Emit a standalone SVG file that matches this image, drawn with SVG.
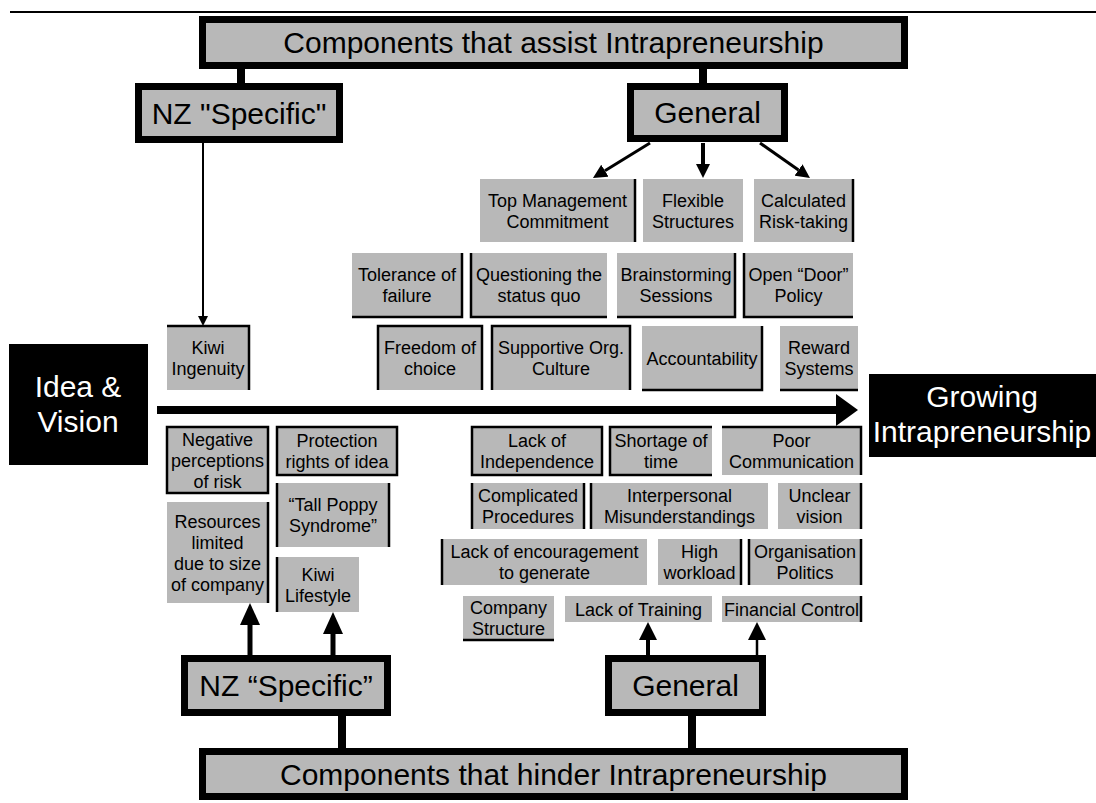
<svg xmlns="http://www.w3.org/2000/svg" width="1096" height="803" viewBox="0 0 1096 803">
<style>
.bg{fill:#ffffff}
.box{fill:#b8b8b8}
.edge{fill:none;stroke:#000;stroke-width:2.5}
.tbox{fill:#b8b8b8;stroke:#000;stroke-width:7}
.dark{fill:#000}
.t{font-family:"Liberation Sans",Arial,sans-serif;font-size:18px;fill:#000;text-anchor:middle}
.tl{font-family:"Liberation Sans",Arial,sans-serif;font-size:30px;fill:#000;text-anchor:middle}
.tw{font-family:"Liberation Sans",Arial,sans-serif;font-size:30px;fill:#fff;text-anchor:middle}
.ln{fill:none;stroke:#000}
</style>
<defs>
<marker id="ahSmall" markerUnits="userSpaceOnUse" markerWidth="10" markerHeight="10" refX="0" refY="5" orient="auto"><path d="M0,0L10,5L0,10Z" fill="#000"/></marker>
<marker id="ahMid" markerUnits="userSpaceOnUse" markerWidth="14" markerHeight="14" refX="0" refY="7" orient="auto"><path d="M0,0L14,7L0,14Z" fill="#000"/></marker>
<marker id="ahUp" markerUnits="userSpaceOnUse" markerWidth="22" markerHeight="20" refX="0" refY="10" orient="auto"><path d="M0,0L22,10L0,20Z" fill="#000"/></marker>
<marker id="ahUp2" markerUnits="userSpaceOnUse" markerWidth="18" markerHeight="18" refX="0" refY="9" orient="auto"><path d="M0,0L18,9L0,18Z" fill="#000"/></marker>
<marker id="ahBig" markerUnits="userSpaceOnUse" markerWidth="22" markerHeight="32" refX="0" refY="16" orient="auto"><path d="M0,0L22,16L0,32Z" fill="#000"/></marker>
</defs>
<rect class="bg" x="0" y="0" width="1096" height="803"/>

<g id="connectors">
<path class="ln" stroke-width="2" d="M10,12H1096"/>
<path class="ln" stroke-width="8" d="M241,69V83"/>
<path class="ln" stroke-width="8" d="M703,69V83"/>
<path class="ln" stroke-width="2" d="M203,143V316" marker-end="url(#ahSmall)"/>
<path class="ln" stroke-width="3" d="M650,143L604.9,170.7" marker-end="url(#ahMid)"/>
<path class="ln" stroke-width="4" d="M703,143V164" marker-end="url(#ahMid)"/>
<path class="ln" stroke-width="3" d="M760,143L798.5,170" marker-end="url(#ahMid)"/>
<path class="ln" stroke-width="8" d="M157,410H836" marker-end="url(#ahBig)"/>
<path class="ln" stroke-width="5" d="M250,655V625" marker-end="url(#ahUp)"/>
<path class="ln" stroke-width="5" d="M333,655V634" marker-end="url(#ahUp)"/>
<path class="ln" stroke-width="4" d="M648,655V640" marker-end="url(#ahUp2)"/>
<path class="ln" stroke-width="2.5" d="M757,655V640" marker-end="url(#ahUp2)"/>
<path class="ln" stroke-width="8" d="M342,716V748"/>
<path class="ln" stroke-width="8" d="M692,716V748"/>
</g>

<g id="assist-title"><rect class="tbox" x="202.5" y="19.5" width="702" height="46"/><text class="tl" x="553.5" y="53">Components that assist Intrapreneurship</text></g>
<g id="assist-nz"><rect class="tbox" x="138.5" y="86.5" width="201" height="53"/><text class="tl" x="239" y="124">NZ "Specific"</text></g>
<g id="assist-general"><rect class="tbox" x="630.5" y="86.5" width="154" height="52"/><text class="tl" x="707.5" y="123">General</text></g>

<g id="a-topmgmt"><rect class="box" x="480" y="179" width="155" height="63"/><path class="edge" d="M635,179V242"/><text class="t"><tspan x="557.5" y="206.5">Top Management</tspan><tspan x="557.5" y="227.5">Commitment</tspan></text></g>
<g id="a-flex"><rect class="box" x="643" y="179" width="100" height="63"/><text class="t"><tspan x="693" y="206.5">Flexible</tspan><tspan x="693" y="227.5">Structures</tspan></text></g>
<g id="a-calc"><rect class="box" x="754" y="179" width="99" height="63"/><path class="edge" d="M853,179V242"/><text class="t"><tspan x="803.5" y="206.5">Calculated</tspan><tspan x="803.5" y="227.5">Risk-taking</tspan></text></g>

<g id="a-tol"><rect class="box" x="352" y="253" width="110" height="64"/><path class="edge" d="M462,253V317H352"/><text class="t"><tspan x="407" y="281">Tolerance of</tspan><tspan x="407" y="302">failure</tspan></text></g>
<g id="a-quest"><rect class="box" x="471" y="253" width="136" height="64"/><path class="edge" d="M471,253V317H607"/><text class="t"><tspan x="539" y="281">Questioning the</tspan><tspan x="539" y="302">status quo</tspan></text></g>
<g id="a-brain"><rect class="box" x="617" y="253" width="118" height="64"/><path class="edge" d="M735,253V317H617"/><text class="t"><tspan x="676" y="281">Brainstorming</tspan><tspan x="676" y="302">Sessions</tspan></text></g>
<g id="a-open"><rect class="box" x="744" y="253" width="109" height="64"/><path class="edge" d="M744,253V317H853"/><text class="t"><tspan x="798.5" y="281">Open “Door”</tspan><tspan x="798.5" y="302">Policy</tspan></text></g>

<g id="a-kiwi"><rect class="box" x="167" y="326" width="82" height="64"/><path class="edge" d="M167,326H249V390"/><text class="t"><tspan x="208" y="354">Kiwi</tspan><tspan x="208" y="375">Ingenuity</tspan></text></g>
<g id="a-free"><rect class="box" x="378" y="326" width="104" height="64"/><path class="edge" d="M378,390V326H482V390"/><text class="t"><tspan x="430" y="354">Freedom of</tspan><tspan x="430" y="375">choice</tspan></text></g>
<g id="a-supp"><rect class="box" x="492" y="326" width="138" height="64"/><path class="edge" d="M492,390V326H630V390"/><text class="t"><tspan x="561" y="354">Supportive Org.</tspan><tspan x="561" y="375">Culture</tspan></text></g>
<g id="a-acc"><rect class="box" x="642" y="326" width="120" height="64"/><path class="edge" d="M762,326V390H642"/><text class="t" x="702" y="364.5">Accountability</text></g>
<g id="a-rew"><rect class="box" x="780" y="326" width="78" height="64"/><path class="edge" d="M780,390H858"/><text class="t"><tspan x="819" y="354">Reward</tspan><tspan x="819" y="375">Systems</tspan></text></g>

<g id="idea"><rect class="dark" x="9" y="344" width="139" height="121"/><text class="tw"><tspan x="78" y="397">Idea &amp;</tspan><tspan x="78" y="432">Vision</tspan></text></g>
<g id="growing"><rect class="dark" x="869" y="374" width="227" height="83"/><text class="tw"><tspan x="982" y="407">Growing</tspan><tspan x="982" y="442">Intrapreneurship</tspan></text></g>

<g id="h-neg"><rect class="box" x="167" y="427" width="101" height="66"/><path class="edge" d="M167,427H268V493H167Z"/><text class="t"><tspan x="217.5" y="445.5">Negative</tspan><tspan x="217.5" y="466.5">perceptions</tspan><tspan x="217.5" y="487.5">of risk</tspan></text></g>
<g id="h-prot"><rect class="box" x="277" y="427" width="120" height="48"/><path class="edge" d="M277,427H397V475H277Z"/><text class="t"><tspan x="337" y="447">Protection</tspan><tspan x="337" y="468">rights of idea</tspan></text></g>
<g id="h-tall"><rect class="box" x="277" y="483" width="112" height="64"/><path class="edge" d="M277,483V547M389,483V547"/><text class="t"><tspan x="333" y="511">“Tall Poppy</tspan><tspan x="333" y="532">Syndrome”</tspan></text></g>
<g id="h-res"><rect class="box" x="167" y="502" width="101" height="101"/><path class="edge" d="M268,502V603"/><text class="t"><tspan x="217.5" y="527.5">Resources</tspan><tspan x="217.5" y="548.5">limited</tspan><tspan x="217.5" y="569.5">due to size</tspan><tspan x="217.5" y="590.5">of company</tspan></text></g>
<g id="h-life"><rect class="box" x="277" y="557" width="82" height="55"/><path class="edge" d="M277,557V612"/><text class="t"><tspan x="318" y="580.5">Kiwi</tspan><tspan x="318" y="601.5">Lifestyle</tspan></text></g>

<g id="h-indep"><rect class="box" x="472" y="427" width="130" height="48"/><path class="edge" d="M472,427H602V475H472Z"/><text class="t"><tspan x="537" y="447">Lack of</tspan><tspan x="537" y="468">Independence</tspan></text></g>
<g id="h-short"><rect class="box" x="610" y="427" width="102" height="48"/><path class="edge" d="M712,427H610V475H712"/><text class="t"><tspan x="661" y="447">Shortage of</tspan><tspan x="661" y="468">time</tspan></text></g>
<g id="h-poor"><rect class="box" x="722" y="427" width="139" height="48"/><path class="edge" d="M722,427H861V475"/><text class="t"><tspan x="791.5" y="447">Poor</tspan><tspan x="791.5" y="468">Communication</tspan></text></g>
<g id="h-comp"><rect class="box" x="472" y="483" width="112" height="46"/><path class="edge" d="M472,483V529M584,483V529"/><text class="t"><tspan x="528" y="502">Complicated</tspan><tspan x="528" y="523">Procedures</tspan></text></g>
<g id="h-inter"><rect class="box" x="591" y="483" width="177" height="46"/><path class="edge" d="M591,483V529"/><text class="t"><tspan x="679.5" y="502">Interpersonal</tspan><tspan x="679.5" y="523">Misunderstandings</tspan></text></g>
<g id="h-unclear"><rect class="box" x="778" y="483" width="83" height="46"/><path class="edge" d="M861,483V529"/><text class="t"><tspan x="819.5" y="502">Unclear</tspan><tspan x="819.5" y="523">vision</tspan></text></g>
<g id="h-enc"><rect class="box" x="442" y="539" width="205" height="46"/><path class="edge" d="M442,539V585"/><text class="t"><tspan x="544.5" y="558">Lack of encouragement</tspan><tspan x="544.5" y="579">to generate</tspan></text></g>
<g id="h-high"><rect class="box" x="658" y="539" width="83" height="46"/><path class="edge" d="M741,539V585"/><text class="t"><tspan x="699.5" y="558">High</tspan><tspan x="699.5" y="579">workload</tspan></text></g>
<g id="h-org"><rect class="box" x="749" y="539" width="112" height="46"/><path class="edge" d="M749,539V585M861,539V585"/><text class="t"><tspan x="805" y="558">Organisation</tspan><tspan x="805" y="579">Politics</tspan></text></g>
<g id="h-compstr"><rect class="box" x="463" y="596" width="91" height="44"/><path class="edge" d="M463,640H554"/><text class="t"><tspan x="508.5" y="614">Company</tspan><tspan x="508.5" y="635">Structure</tspan></text></g>
<g id="h-train"><rect class="box" x="565" y="596" width="147" height="26"/><text class="t" x="638.5" y="615.5">Lack of Training</text></g>
<g id="h-fin"><rect class="box" x="722" y="596" width="139" height="26"/><path class="edge" d="M861,596V622"/><text class="t" x="791.5" y="615.5">Financial Control</text></g>

<g id="hinder-nz"><rect class="tbox" x="184.5" y="658.5" width="203" height="54"/><text class="tl" x="286" y="696">NZ “Specific”</text></g>
<g id="hinder-general"><rect class="tbox" x="608.5" y="658.5" width="154" height="54"/><text class="tl" x="685.5" y="696">General</text></g>
<g id="hinder-title"><rect class="tbox" x="202.5" y="751.5" width="702" height="45"/><text class="tl" x="553.5" y="785">Components that hinder Intrapreneurship</text></g>
</svg>
